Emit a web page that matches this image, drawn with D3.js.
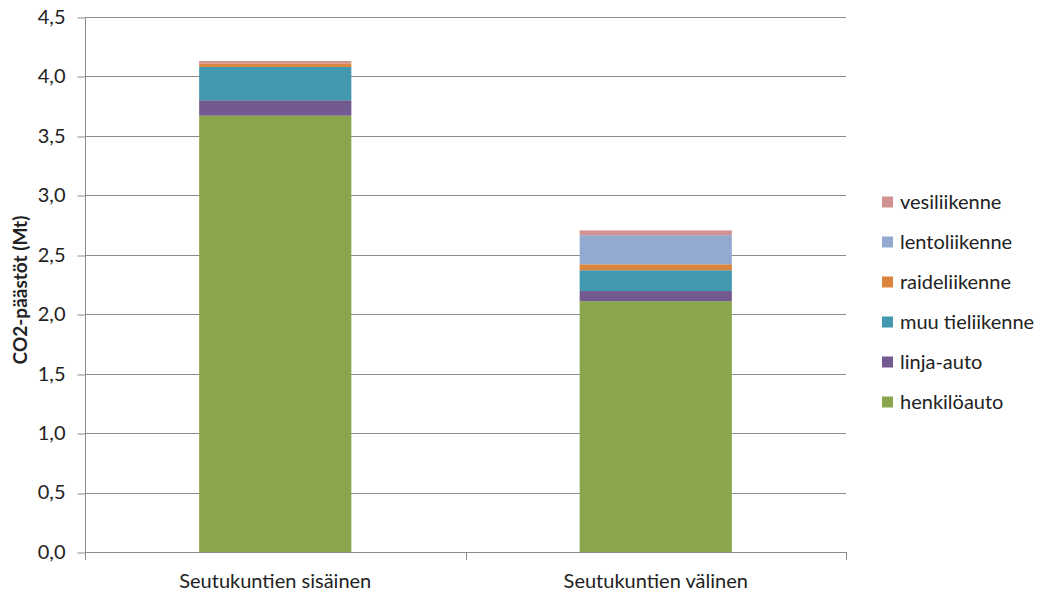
<!DOCTYPE html>
<html>
<head>
<meta charset="utf-8">
<script src="https://cdn.jsdelivr.net/npm/d3@7"></script>
<style>
  body { margin: 0; background: #fff; }
  svg text { font-family: Lato, "Liberation Sans", sans-serif; fill: #222; }
</style>
</head>
<body>
<svg id="chart" width="1043" height="595"></svg>
<script>
// Emissions by traffic mode (Mt CO2), per region type
const categories = ["Seutukuntien sisäinen", "Seutukuntien välinen"];
const seriesNames = ["henkilöauto", "linja-auto", "muu tieliikenne", "raideliikenne", "lentoliikenne", "vesiliikenne"];
const henkiloauto    = [3.67, 2.11];
const linjaAuto      = [0.13, 0.085];
const muuTieliikenne = [0.28, 0.175];
const raideliikenne  = [0.03, 0.05];
const lentoliikenne  = [0.0, 0.245];
const vesiliikenne   = [0.02, 0.04];
const yTicks = [0, 0.5, 1, 1.5, 2, 2.5, 3, 3.5, 4, 4.5];
const colors = ["#8aa64d", "#72598f", "#4198af", "#db843d", "#93a9cf", "#d19392"];

const seriesValues = [henkiloauto, linjaAuto, muuTieliikenne, raideliikenne, lentoliikenne, vesiliikenne];
const table = categories.map((c, i) => {
  const row = { category: c };
  seriesNames.forEach((s, j) => row[s] = seriesValues[j][i]);
  return row;
});

const svg = d3.select("#chart");
const plot = { left: 85, right: 846, top: 17, bottom: 552 };

const x = d3.scaleBand().domain(categories).range([plot.left, plot.right]).paddingInner(0.6).paddingOuter(0.3);
const xOuter = d3.scaleBand().domain(categories).range([plot.left, plot.right]);
const y = d3.scaleLinear().domain([0, 4.5]).range([plot.bottom, plot.top]);

// horizontal gridlines
svg.append("g").selectAll("line").data(yTicks.filter(t => t > 0)).join("line")
  .attr("x1", plot.left).attr("x2", plot.right)
  .attr("y1", d => Math.round(y(d)) + 0.5).attr("y2", d => Math.round(y(d)) + 0.5)
  .attr("stroke", "#8c8c8c").attr("stroke-width", 1);

// stacked bars
const stacked = d3.stack().keys(seriesNames)(table);
svg.append("g").selectAll("g").data(stacked).join("g")
  .attr("fill", (d, i) => colors[i])
  .selectAll("rect").data(d => d).join("rect")
  .attr("x", d => x(d.data.category))
  .attr("width", x.bandwidth())
  .attr("y", d => y(d[1]))
  .attr("height", d => y(d[0]) - y(d[1]));

// y axis
const yAxis = d3.axisLeft(y).tickValues(yTicks).tickSize(8).tickPadding(12)
  .tickFormat(d => d3.format(".1f")(d).replace(".", ","));
const gy = svg.append("g").attr("transform", `translate(${plot.left + 0.5},0)`).call(yAxis);
gy.selectAll("line, path").attr("stroke", "#8c8c8c");
gy.select(".domain").attr("d", `M0,${plot.top}V${plot.bottom}`);
gy.selectAll("line").attr("transform", d => `translate(0,${Math.round(y(d)) + 0.5 - y(d)})`);
gy.selectAll("text").style("font-size", "20px").attr("fill", "#222");

// x axis with boundary ticks between categories
const gx = svg.append("g");
gx.append("line").attr("x1", plot.left).attr("x2", plot.right)
  .attr("y1", plot.bottom + 0.5).attr("y2", plot.bottom + 0.5).attr("stroke", "#8c8c8c");
const bounds = categories.map(c => xOuter(c)).concat([plot.right]);
gx.selectAll("line.tick").data(bounds).join("line").attr("class", "tick")
  .attr("x1", d => Math.round(d) + 0.5).attr("x2", d => Math.round(d) + 0.5)
  .attr("y1", plot.bottom).attr("y2", plot.bottom + 8).attr("stroke", "#8c8c8c");
gx.selectAll("text").data(categories).join("text")
  .attr("x", d => xOuter(d) + xOuter.bandwidth() / 2)
  .attr("y", 588)
  .attr("text-anchor", "middle")
  .style("font-size", "20px")
  .text(d => d);

// y axis title
svg.append("text")
  .attr("transform", "translate(27,290) rotate(-90)")
  .attr("text-anchor", "middle")
  .style("font-size", "19px").style("font-weight", "bold")
  .attr("fill", "#000")
  .text("CO2-päästöt (Mt)");

// legend, top item is the topmost series
const legendOrder = seriesNames.map((s, i) => ({ name: s, color: colors[i] })).reverse();
const legend = svg.append("g").selectAll("g").data(legendOrder).join("g")
  .attr("transform", (d, i) => `translate(882,${201.5 + i * 40})`);
legend.append("rect").attr("x", 0).attr("y", -5).attr("width", 11).attr("height", 11).attr("fill", d => d.color);
legend.append("text").attr("x", 18).attr("y", 7).style("font-size", "20px").text(d => d.name);
</script>
</body>
</html>
